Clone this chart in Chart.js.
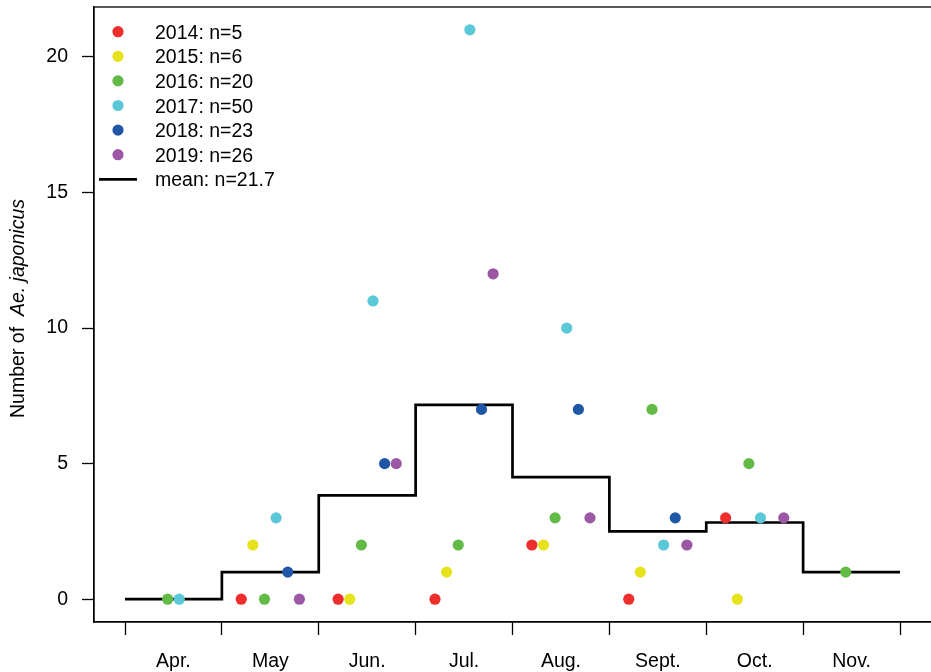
<!DOCTYPE html>
<html>
<head>
<meta charset="utf-8">
<script src="https://cdn.jsdelivr.net/npm/chart.js@4.4.1/dist/chart.umd.min.js"></script>
<style>
  body { margin: 0; background: #fff; }
</style>
</head>
<body>
<canvas id="chart" width="931" height="672"></canvas>
<script>
// monthly counts per year (null = not sampled)
var months = ['Apr.', 'May', 'Jun.', 'Jul.', 'Aug.', 'Sept.', 'Oct.', 'Nov.'];
var y2014 = [null, 0, 0, 0, 2, 0, 3, null];
var y2015 = [null, 2, 0, 1, 2, 1, 0, null];
var y2016 = [0, 0, 2, 2, 3, 7, 5, 1];
var y2017 = [0, 3, 11, 21, 10, 2, 3, null];
var y2018 = [null, 1, 5, 7, 7, 3, null, null];
var y2019 = [null, 0, 5, 12, 3, 2, 3, null];
var monthlyMean = [0, 1, 3.83, 7.17, 4.5, 2.5, 2.83, 1];
var yearLabels = ['2014: n=5', '2015: n=6', '2016: n=20', '2017: n=50', '2018: n=23', '2019: n=26'];
var meanLabel = 'mean: n=21.7';
var yTicks = [0, 5, 10, 15, 20];

var colors = ['#EE2D2D', '#E6E21C', '#62BB46', '#5BC8D8', '#1F56A6', '#9D58A5'];
var FONT = '"Liberation Sans", Arial, Helvetica, sans-serif';
var FSIZE = 19.5;

// spread the years side by side inside each month
function yearPoints(values, k) {
    var pts = [];
    values.forEach(function(v, i) {
        if (v !== null) pts.push({x: i + 0.5 + (k - 2.5) * 0.12, y: v});
    });
    return pts;
}

var meanSteps = monthlyMean.map(function(v, i) { return {x: i, y: v}; });
meanSteps.push({x: monthlyMean.length, y: monthlyMean[monthlyMean.length - 1]});

var years = [y2014, y2015, y2016, y2017, y2018, y2019];
var datasets = years.map(function(vals, k) {
    return {
        label: yearLabels[k],
        data: yearPoints(vals, k),
        backgroundColor: colors[k],
        borderColor: colors[k],
        borderWidth: 0,
        pointRadius: 5.6,
        order: 1
    };
});
datasets.push({
    type: 'line',
    label: meanLabel,
    data: meanSteps,
    stepped: true,
    borderColor: '#000',
    borderWidth: 2.7,
    pointRadius: 0,
    fill: false,
    order: 10
});

// box round the plot region
var boxPlugin = {
    id: 'box',
    afterDraw: function(chart) {
        var a = chart.chartArea, c = chart.ctx;
        c.save();
        c.strokeStyle = '#000';
        c.lineWidth = 1.3;
        c.strokeRect(a.left, a.top, a.right - a.left + 5, a.bottom - a.top);
        c.restore();
    }
};

// legend in the top left corner, R style
var legendPlugin = {
    id: 'rLegend',
    afterDraw: function(chart) {
        var c = chart.ctx;
        var y0 = 31.7, dy = 24.6;
        c.save();
        c.font = FSIZE + 'px ' + FONT;
        c.textBaseline = 'alphabetic';
        yearLabels.forEach(function(lbl, k) {
            var y = y0 + k * dy;
            c.beginPath();
            c.arc(118, y, 5.6, 0, 2 * Math.PI);
            c.fillStyle = colors[k];
            c.fill();
            c.fillStyle = '#000';
            c.fillText(lbl, 155, y + 7);
        });
        var ym = y0 + 6 * dy;
        c.beginPath();
        c.moveTo(99, ym);
        c.lineTo(137, ym);
        c.strokeStyle = '#000';
        c.lineWidth = 2.7;
        c.stroke();
        c.fillStyle = '#000';
        c.fillText(meanLabel, 155, ym + 7);
        c.restore();
    }
};

// y title with the species name in italics
var yTitlePlugin = {
    id: 'yTitle',
    afterDraw: function(chart) {
        var c = chart.ctx, a = chart.chartArea;
        var part1 = 'Number of  ', part2 = 'Ae. japonicus';
        c.save();
        c.font = FSIZE + 'px ' + FONT;
        var w1 = c.measureText(part1).width;
        c.font = 'italic ' + FSIZE + 'px ' + FONT;
        var w2 = c.measureText(part2).width;
        c.translate(24, (a.top + a.bottom) / 2 - 6);
        c.rotate(-Math.PI / 2);
        c.fillStyle = '#000';
        c.textBaseline = 'alphabetic';
        var start = -(w1 + w2) / 2;
        c.font = FSIZE + 'px ' + FONT;
        c.fillText(part1, start, 0);
        c.font = 'italic ' + FSIZE + 'px ' + FONT;
        c.fillText(part2, start + w1, 0);
        c.restore();
    }
};

var ctx = document.getElementById('chart').getContext('2d');
var chart = new Chart(ctx, {
    type: 'scatter',
    data: { datasets: datasets },
    options: {
        responsive: false,
        animation: false,
        layout: { autoPadding: false, padding: { top: 7, right: 0, left: 0, bottom: 0 } },
        plugins: {
            legend: { display: false },
            tooltip: { enabled: false }
        },
        scales: {
            x: {
                type: 'linear',
                min: -0.32,
                max: 8.32,
                afterBuildTicks: function(scale) {
                    var t = [];
                    for (var v = 0; v <= 8; v += 0.5) t.push({value: v});
                    scale.ticks = t;
                },
                afterFit: function(scale) {
                    scale.height = 50;
                    scale.paddingLeft = 0;
                    scale.paddingRight = 0;
                },
                border: { display: true, color: '#000', width: 1.3 },
                grid: {
                    display: true,
                    drawOnChartArea: false,
                    drawTicks: true,
                    tickLength: 13,
                    tickWidth: 1.3,
                    tickColor: function(c) {
                        return c.tick && c.tick.value % 1 === 0 ? '#000' : 'rgba(0,0,0,0)';
                    }
                },
                ticks: {
                    autoSkip: false,
                    maxRotation: 0,
                    padding: 15,
                    color: '#000',
                    font: { family: FONT, size: FSIZE },
                    callback: function(value) {
                        return value % 1 !== 0 ? months[Math.floor(value)] : '';
                    }
                }
            },
            y: {
                type: 'linear',
                min: -0.84,
                max: 21.84,
                afterBuildTicks: function(scale) {
                    scale.ticks = yTicks.map(function(v) { return {value: v}; });
                },
                afterFit: function(scale) {
                    scale.width = 94;
                    scale.paddingTop = 0;
                    scale.paddingBottom = 0;
                },
                border: { display: true, color: '#000', width: 1.3 },
                grid: {
                    display: true,
                    drawOnChartArea: false,
                    drawTicks: true,
                    tickLength: 12,
                    tickWidth: 1.3,
                    tickColor: '#000'
                },
                ticks: {
                    padding: 14,
                    color: '#000',
                    font: { family: FONT, size: FSIZE }
                }
            }
        }
    },
    plugins: [boxPlugin, legendPlugin, yTitlePlugin]
});
</script>
</body>
</html>
